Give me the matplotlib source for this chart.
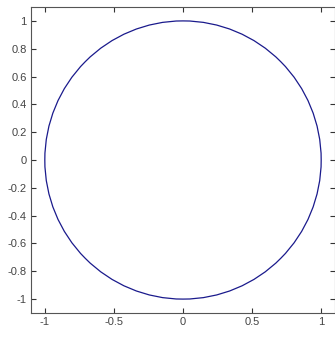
import matplotlib.pyplot as plt
import matplotlib.patches as mpatches

# circle parameters
center_x = 0.0
center_y = 0.0
radius = 1.0

xticks = [-1, -0.5, 0, 0.5, 1]
xticklabels = ["-1", "-0.5", "0", "0.5", "1"]
yticks = [-1, -0.8, -0.6, -0.4, -0.2, 0, 0.2, 0.4, 0.6, 0.8, 1]
yticklabels = ["-1", "-0.8", "-0.6", "-0.4", "-0.2", "0", "0.2", "0.4", "0.6", "0.8", "1"]

plt.rcParams['font.family'] = ['Liberation Sans', 'DejaVu Sans']

fig = plt.figure(figsize=(3.35, 3.37), dpi=100)
ax = fig.add_axes([31/335, 24/337, 304/335, 306/337])

circ = mpatches.Circle((center_x, center_y), radius, fill=False,
                       edgecolor="#1a1a8c", linewidth=0.9)
ax.add_patch(circ)

ax.set_xlim(-1.1, 1.1)
ax.set_ylim(-1.1, 1.1)
ax.set_xticks(xticks)
ax.set_xticklabels(xticklabels)
ax.set_yticks(yticks)
ax.set_yticklabels(yticklabels)
ax.tick_params(direction="in", length=3.5, width=0.8, top=True, right=True,
               labelsize=8, labelcolor="#444444", color="#333333", pad=3)
for s in ax.spines.values():
    s.set_color("#555555")
    s.set_linewidth(0.8)

fig.savefig("out.png", dpi=100)
